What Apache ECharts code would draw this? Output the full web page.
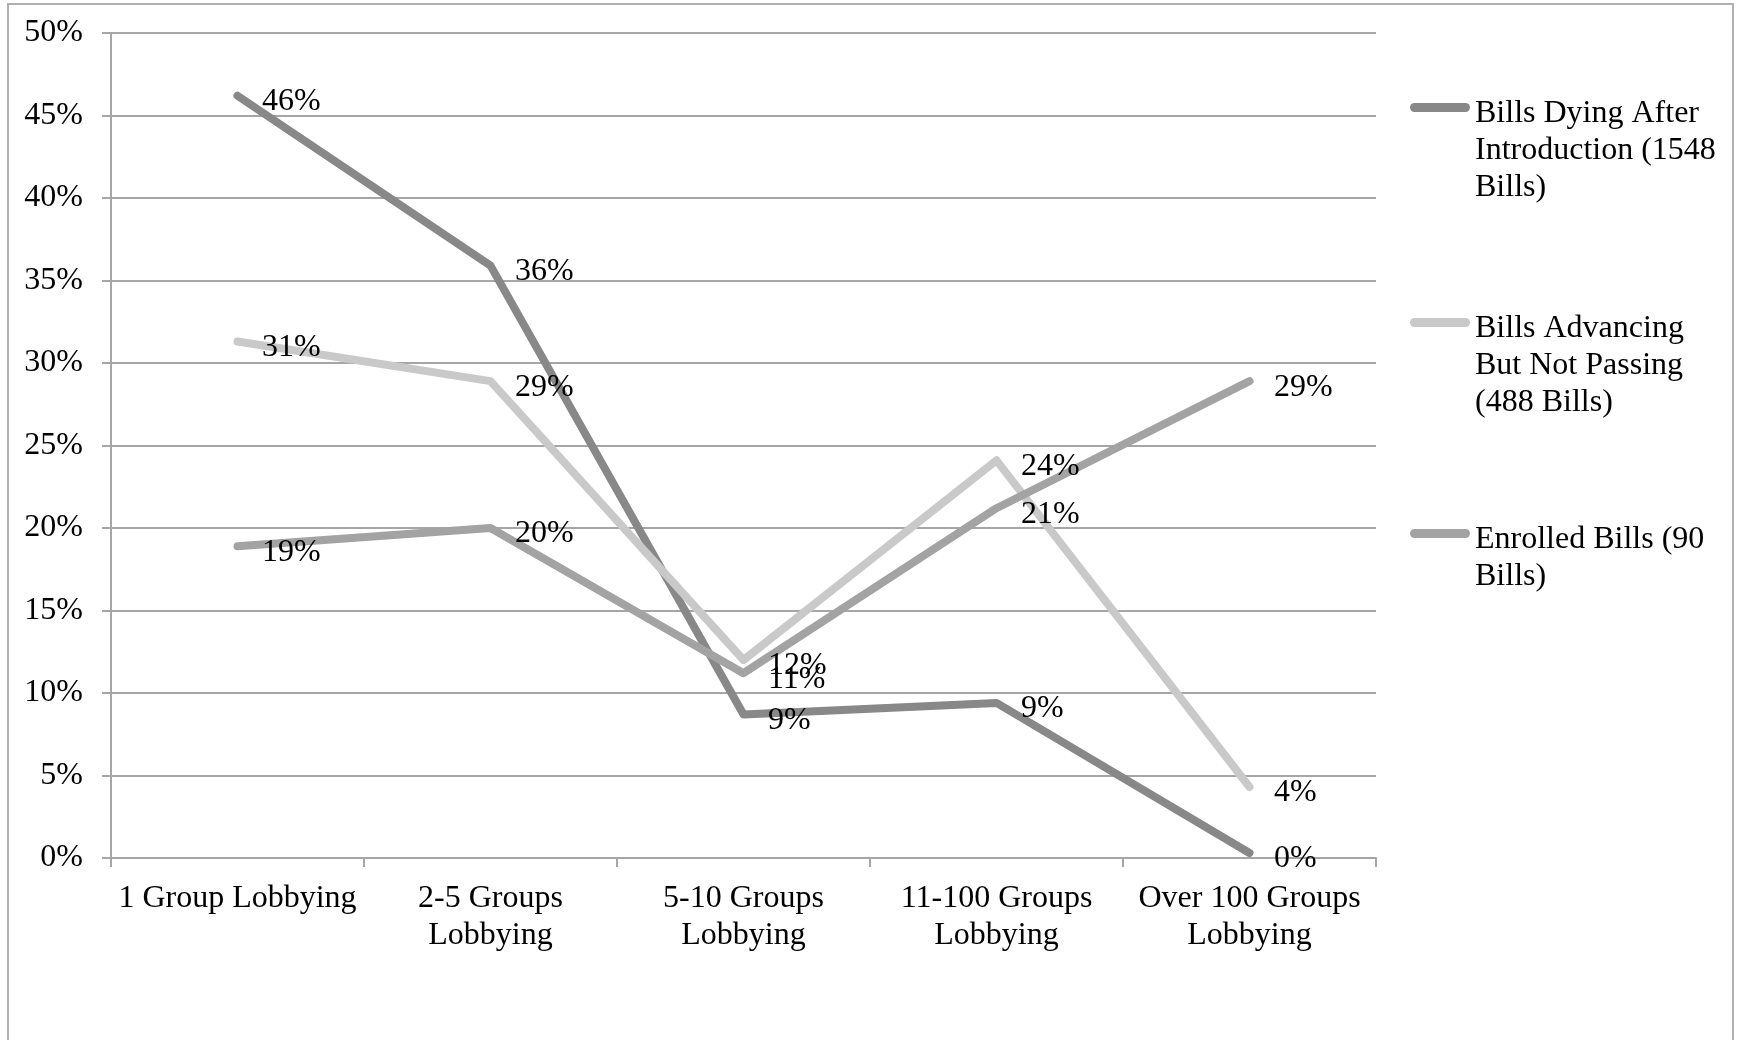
<!DOCTYPE html>
<html>
<head>
<meta charset="utf-8">
<script src="https://cdn.jsdelivr.net/npm/echarts@6/dist/echarts.min.js"></script>
<style>
html,body{margin:0;padding:0;background:#fff;}
#chart{width:1737px;height:1040px;}
</style>
</head>
<body>
<div id="chart"></div>
<script>
// categories and values (percent)
var categories = ['1 Group Lobbying', '2-5 Groups\nLobbying', '5-10 Groups\nLobbying', '11-100 Groups\nLobbying', 'Over 100 Groups\nLobbying'];
var seriesNames = ['Bills Dying After Introduction (1548 Bills)', 'Bills Advancing But Not Passing (488 Bills)', 'Enrolled Bills (90 Bills)'];
var legendText = ['Bills Dying After\nIntroduction (1548\nBills)', 'Bills Advancing\nBut Not Passing\n(488 Bills)', 'Enrolled Bills (90\nBills)'];
var dying = [46.2, 35.9, 8.7, 9.4, 0.3];
var advancing = [31.3, 28.9, 12.0, 24.1, 4.3];
var enrolled = [18.9, 20.0, 11.2, 21.2, 28.9];
var colors = ['#888888', '#c9c9c9', '#a3a3a3'];

var font = 'Liberation Serif';
var fs = 32;
var lh = 37;
var myChart = echarts.init(document.getElementById('chart'));

function makeSeries(name, data, color) {
    return {
        name: name,
        type: 'line',
        data: data,
        symbol: 'circle',
        symbolSize: 1,
        lineStyle: {width: 8, color: color, cap: 'round', join: 'round'},
        itemStyle: {color: color},
        label: {
            show: true,
            position: 'right',
            distance: 24,
            offset: [0, 6],
            fontFamily: font,
            fontSize: fs,
            color: '#000',
            formatter: function (p) { return Math.round(p.value) + '%'; }
        },
        emphasis: {disabled: true},
        animation: false
    };
}

// legend item: blank lines on top so the icon sits by the first text line
function makeLegend(i, top) {
    var lines = legendText[i].split('\n').length;
    var padH = ((lines - 1) * lh + 12) / (lines - 1);
    var pad = '';
    for (var k = 1; k < lines; k++) pad += '{p| }\n';
    return {
        orient: 'vertical',
        left: 1410,
        top: top,
        padding: 0,
        itemWidth: 60,
        itemHeight: 9,
        itemGap: 0,
        icon: 'path://M4.5,0h51a4.5,4.5 0 0 1 0,9h-51a4.5,4.5 0 0 1 0,-9z',
        data: [{name: seriesNames[i], itemStyle: {color: colors[i]}}],
        formatter: function () { return pad + legendText[i]; },
        textStyle: {
            fontFamily: font,
            fontSize: fs,
            color: '#000',
            lineHeight: lh,
            rich: {p: {fontSize: fs, lineHeight: padH}}
        },
        selectedMode: false
    };
}

var option = {
    backgroundColor: '#fff',
    animation: false,
    graphic: [{
        type: 'rect',
        shape: {x: 8, y: 4, width: 1725, height: 1100},
        style: {fill: 'none', stroke: '#b0b0b0', lineWidth: 2},
        silent: true
    }],
    legend: [makeLegend(0, 9), makeLegend(1, 224), makeLegend(2, 472)],
    grid: {left: 111, right: 361, top: 33, bottom: 182},
    xAxis: {
        type: 'category',
        data: categories,
        boundaryGap: true,
        axisLine: {lineStyle: {color: '#a6a6a6', width: 2}},
        axisTick: {show: true, length: 9, lineStyle: {color: '#a6a6a6', width: 2}},
        axisLabel: {fontFamily: font, fontSize: fs, color: '#000', lineHeight: lh, margin: 22, interval: 0}
    },
    yAxis: {
        type: 'value',
        min: 0,
        max: 50,
        interval: 5,
        axisLine: {show: true, lineStyle: {color: '#a6a6a6', width: 2}},
        axisTick: {show: true, length: 9, lineStyle: {color: '#a6a6a6', width: 2}},
        axisLabel: {fontFamily: font, fontSize: fs, color: '#000', margin: 28, formatter: '{value}%'},
        splitLine: {lineStyle: {color: '#a6a6a6', width: 2}}
    },
    series: [
        makeSeries(seriesNames[0], dying, colors[0]),
        makeSeries(seriesNames[1], advancing, colors[1]),
        makeSeries(seriesNames[2], enrolled, colors[2])
    ]
};

myChart.setOption(option);
</script>
</body>
</html>
